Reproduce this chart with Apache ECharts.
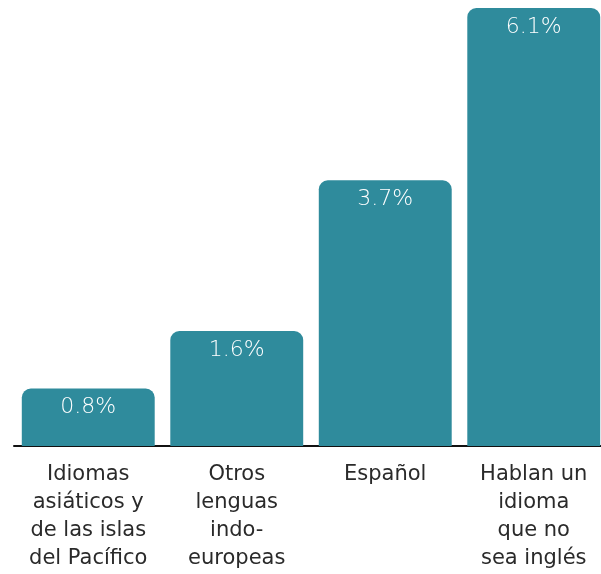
<!DOCTYPE html>
<html>
<head>
<meta charset="utf-8">
<script src="https://cdn.jsdelivr.net/npm/echarts@6/dist/echarts.min.js"></script>
<style>
    html, body { margin: 0; padding: 0; background: #fff; }
    #chart { width: 601px; height: 574px; }
</style>
</head>
<body>
<div id="chart"></div>
<script>
// categories and values (percent)
var categories = [
    'Idiomas\nasiáticos y\nde las islas\ndel Pacífico',
    'Otros\nlenguas\nindo-\neuropeas',
    'Español',
    'Hablan un\nidioma\nque no\nsea inglés'
];
var values = [0.8, 1.6, 3.7, 6.1];

var myChart = echarts.init(document.getElementById('chart'));

var option = {
    animation: false,
    grid: {
        top: 8,
        left: 14,
        right: -7,
        bottom: 128,
        outerBoundsMode: 'none'
    },
    xAxis: {
        type: 'category',
        data: categories,
        axisLine: {
            lineStyle: { color: '#111', width: 2 }
        },
        axisTick: { show: false },
        axisLabel: {
            interval: 0,
            margin: 15,
            color: '#2a2a2a',
            fontFamily: 'DejaVu Sans',
            fontSize: 21,
            lineHeight: 28
        }
    },
    yAxis: {
        type: 'value',
        min: 0,
        max: 6.1,
        show: false,
        splitLine: { show: false }
    },
    series: [
        {
            type: 'bar',
            data: values,
            barCategoryGap: '10.5%',
            itemStyle: {
                color: '#2F8B9C',
                borderRadius: [9, 9, 0, 0]
            },
            label: {
                show: true,
                position: 'insideTop',
                distance: 8,
                color: '#fff',
                fontFamily: 'DejaVu Sans',
                fontWeight: 200,
                fontSize: 22,
                formatter: function (p) {
                    return p.value.toFixed(1) + '%';
                }
            }
        }
    ]
};

myChart.setOption(option);
</script>
</body>
</html>
